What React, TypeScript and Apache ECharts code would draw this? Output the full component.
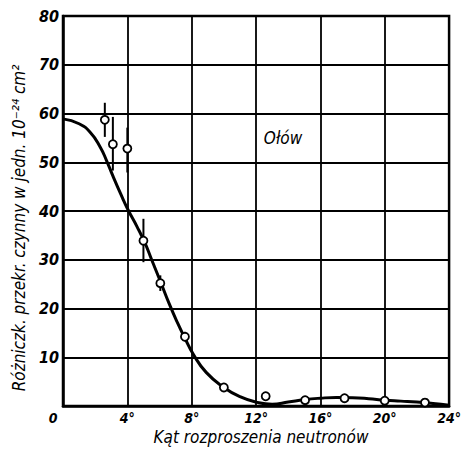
import React, { useEffect, useRef } from "react";
import * as echarts from "echarts";

// Smooth fitted curve (angle in degrees, cross-section)
const curveX = [0, 1, 1.7, 2.3, 2.7, 3.1, 3.6, 4.05, 4.6, 5.1, 5.5, 6.05, 6.6, 7.1, 7.55, 8.1, 8.9, 10, 11, 12, 13, 14, 15, 16, 17, 18, 19, 20, 21, 22, 23, 24];
const curveY = [58.9, 57.9, 56.1, 53.2, 50.4, 47.2, 43.4, 40.2, 36.8, 33.4, 30.1, 25.6, 21.0, 17.2, 14.1, 10.6, 6.9, 3.8, 1.9, 0.8, 0.35, 0.8, 1.3, 1.6, 1.75, 1.7, 1.5, 1.2, 1.0, 0.8, 0.5, 0.15];

// Measured points
const pointX = [2.6, 3.1, 4.0, 5.0, 6.05, 7.58, 10.0, 12.6, 15.05, 17.5, 20.0, 22.5];
const pointY = [58.7, 53.7, 52.8, 33.9, 25.2, 14.2, 3.8, 2.0, 1.2, 1.6, 1.1, 0.7];

// Error bars
const errX = [2.6, 3.1, 4.0, 5.0, 6.05, 7.58];
const errLow = [55.2, 48.3, 47.9, 29.5, 23.6, 13.3];
const errHigh = [62.2, 59.3, 57.1, 38.4, 26.8, 15.2];

const xTicks = [0, 4, 8, 12, 16, 20, 24];
const yTicks = [10, 20, 30, 40, 50, 60, 70, 80];

const xTitle = "Kąt rozproszenia neutronów";
const yTitle = "Różniczk. przekr. czynny w jedn. 10⁻²⁴ cm²";
const seriesLabel = "Ołów";

const FONT = "'DejaVu Sans Condensed', 'Liberation Sans Narrow', 'DejaVu Sans', sans-serif";
const INK = "#000";

export default function App() {
  const ref = useRef<HTMLDivElement>(null);
  useEffect(() => {
    document.body.style.margin = "0";
    const chart = echarts.init(ref.current!, null, { renderer: "svg" });
    const curve = curveX.map((x, i) => [x, curveY[i]]);
    const points = pointX.map((x, i) => [x, pointY[i]]);
    const errs = errX.map((x, i) => [x, errLow[i], errHigh[i]]);
    chart.setOption({
      animation: false,
      backgroundColor: "#fff",
      grid: {
        left: 63,
        right: 14,
        top: 16,
        bottom: 45,
        show: true,
        borderColor: INK,
        borderWidth: 2.5,
        backgroundColor: "transparent",
      },
      xAxis: {
        type: "value",
        min: 0,
        max: 24,
        interval: 4,
        axisLine: { show: true, lineStyle: { color: INK, width: 2.5 } },
        axisTick: { show: false },
        splitLine: { show: true, lineStyle: { color: INK, width: 1.8 } },
        axisLabel: {
          color: INK,
          fontFamily: FONT,
          fontStyle: "italic",
          fontWeight: "bold",
          fontSize: 14,
          margin: 5,
          formatter: (v: number) =>
            xTicks.includes(v) ? (v === 0 ? "{z|0}" : v + "°") : "",
          rich: {
            z: {
              fontFamily: FONT,
              fontStyle: "italic",
              fontWeight: "bold",
              fontSize: 14,
              color: INK,
              padding: [0, 20, 0, 0],
            },
          },
        },
      },
      yAxis: {
        type: "value",
        min: 0,
        max: 80,
        interval: 10,
        axisLine: { show: true, lineStyle: { color: INK, width: 2.5 } },
        axisTick: { show: false },
        splitLine: { show: true, lineStyle: { color: INK, width: 1.8 } },
        axisLabel: {
          color: INK,
          fontFamily: FONT,
          fontStyle: "italic",
          fontWeight: "bold",
          fontSize: 16,
          margin: 4,
          formatter: (v: number) => (yTicks.includes(v) ? String(v) : ""),
        },
      },
      graphic: [
        {
          type: "text",
          x: 19,
          y: 228,
          rotation: Math.PI / 2,
          style: {
            text: yTitle,
            fill: INK,
            font: `italic 17px ${FONT}`,
            textAlign: "center",
            textVerticalAlign: "middle",
          },
        },
        {
          type: "text",
          x: 261,
          y: 437,
          style: {
            text: xTitle,
            fill: INK,
            font: `italic 17px ${FONT}`,
            textAlign: "center",
            textVerticalAlign: "middle",
          },
        },
        {
          type: "text",
          x: 283,
          y: 138,
          style: {
            text: seriesLabel,
            fill: INK,
            font: `italic 17px ${FONT}`,
            textAlign: "center",
            textVerticalAlign: "middle",
          },
        },
      ],
      series: [
        {
          type: "line",
          data: curve,
          smooth: 0.5,
          showSymbol: false,
          lineStyle: { color: INK, width: 3 },
          z: 3,
        },
        {
          type: "custom",
          data: errs,
          z: 4,
          renderItem: (_params: any, api: any) => {
            const x = api.value(0);
            const p1 = api.coord([x, api.value(1)]);
            const p2 = api.coord([x, api.value(2)]);
            return {
              type: "line",
              shape: { x1: p1[0], y1: p1[1], x2: p2[0], y2: p2[1] },
              style: { stroke: INK, lineWidth: 2 },
            };
          },
        },
        {
          type: "scatter",
          data: points,
          symbol: "circle",
          symbolSize: 8,
          itemStyle: { color: "#fff", borderColor: INK, borderWidth: 1.8, opacity: 1 },
          z: 5,
        },
      ],
    });
    return () => chart.dispose();
  }, []);
  return (
    <div
      ref={ref}
      style={{ position: "fixed", left: 0, top: 0, width: 464, height: 451 }}
    />
  );
}
